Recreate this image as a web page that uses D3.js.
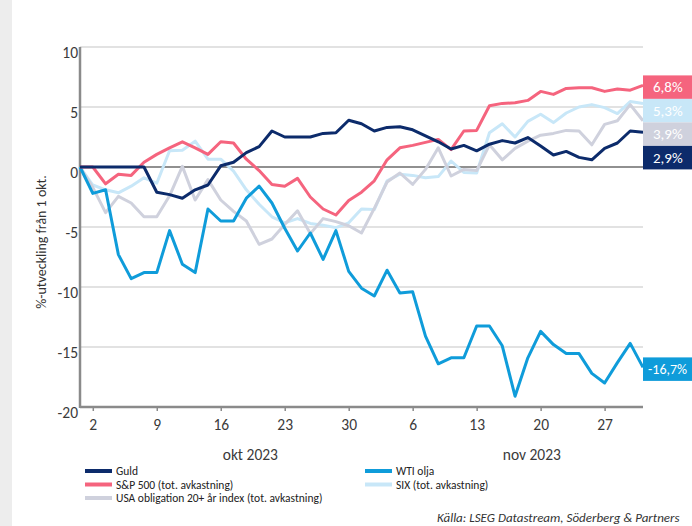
<!DOCTYPE html>
<html>
<head>
<meta charset="utf-8">
<script src="https://cdn.jsdelivr.net/npm/d3@7"></script>
<style>
  body { margin: 0; background: #fff; }
  text { font-family: Carlito, Lato, "Open Sans", sans-serif; }
</style>
</head>
<body>
<svg id="chart"></svg>
<script>
// 交易日
const dates = [
  "2023-09-29",
  "2023-10-02", "2023-10-03", "2023-10-04", "2023-10-05", "2023-10-06",
  "2023-10-09", "2023-10-10", "2023-10-11", "2023-10-12", "2023-10-13",
  "2023-10-16", "2023-10-17", "2023-10-18", "2023-10-19", "2023-10-20",
  "2023-10-23", "2023-10-24", "2023-10-25", "2023-10-26", "2023-10-27",
  "2023-10-30", "2023-10-31", "2023-11-01", "2023-11-02", "2023-11-03",
  "2023-11-06", "2023-11-07", "2023-11-08", "2023-11-09", "2023-11-10",
  "2023-11-13", "2023-11-14", "2023-11-15", "2023-11-16", "2023-11-17",
  "2023-11-20", "2023-11-21", "2023-11-22", "2023-11-23", "2023-11-24",
  "2023-11-27", "2023-11-28", "2023-11-29", "2023-11-30"
];

// 数据
const guld = [0, 0, 0, 0, 0, 0, -2.1, -2.3, -2.6, -1.9, -1.5, 0.1, 0.4, 1.2, 1.7,
  3.0, 2.5, 2.5, 2.5, 2.8, 2.85, 3.9, 3.6, 3.0, 3.3, 3.35, 3.1, 2.6, 2.1, 1.5,
  1.8, 1.35, 1.9, 2.2, 2.0, 2.45, 1.75, 1.0, 1.3, 0.8, 0.6, 1.55, 2.0, 3.0, 2.9];
const sp500 = [0, 0, -1.4, -0.6, -0.7, 0.4, 1.05, 1.6, 2.1, 1.6, 1.05, 2.1, 2.0, 0.65, -0.3,
  -1.45, -1.6, -0.95, -2.5, -3.5, -4.0, -2.8, -2.1, -1.15, 0.6, 1.6, 1.8, 2.05, 2.3, 1.45,
  3.0, 3.05, 5.1, 5.3, 5.35, 5.55, 6.3, 6.05, 6.55, 6.6, 6.6, 6.3, 6.5, 6.4, 6.8];
const usaObl = [0, -1.7, -3.8, -2.45, -3.0, -4.15, -4.15, -2.4, 0.05, -2.75, -1.05, -2.75, -3.7, -4.5, -6.45,
  -6.0, -4.8, -3.65, -5.55, -4.3, -4.55, -4.9, -5.5, -3.45, -1.25, -0.5, -1.45, -0.2, 1.6, -0.75,
  -0.2, -0.3, 1.85, 0.6, 1.55, 2.15, 2.65, 2.8, 3.05, 3.0, 1.85, 3.55, 3.85, 5.2, 3.85];
const wti = [0, -2.2, -1.9, -7.3, -9.3, -8.8, -8.8, -5.3, -8.1, -8.8, -3.5, -4.5, -4.5, -2.6, -1.6,
  -3.0, -5.1, -7.0, -5.5, -7.7, -5.3, -8.7, -10.1, -10.75, -8.6, -10.5, -10.4, -14.1, -16.4, -15.9,
  -15.9, -13.25, -13.25, -14.9, -19.1, -15.9, -13.7, -14.8, -15.55, -15.55, -17.2, -18.0, -16.3, -14.7, -16.7];
const six = [0, -1.5, -1.9, -2.15, -1.6, -0.9, -1.35, 1.35, 1.4, 2.15, 0.65, 0.65, -0.35, -1.9, -3.1,
  -4.15, -4.65, -4.3, -4.7, -4.85, -5.05, -4.65, -3.5, -3.55, -1.15, -0.6, -0.7, -0.9, -0.8, 0.5,
  -0.45, -0.5, 2.85, 3.6, 2.5, 3.8, 4.4, 3.7, 4.5, 5.0, 5.2, 4.95, 4.45, 5.45, 5.3];

// 刻度
const yTicks = [10, 5, 0, -5, -10, -15, -20];
const xTickDates = ["2023-10-02", "2023-10-09", "2023-10-16", "2023-10-23", "2023-10-30",
  "2023-11-06", "2023-11-13", "2023-11-20", "2023-11-27"];
const monthLabels = ["okt 2023", "nov 2023"];
const monthAnchors = ["2023-10-18", "2023-11-17"];
const endLabels = ["6,8%", "5,3%", "3,9%", "2,9%", "-16,7%"];

// 系列 (绘制顺序)
const series = [
  { name: "SIX (tot. avkastning)", values: six, color: "#c8e7f8" },
  { name: "USA obligation 20+ år index (tot. avkastning)", values: usaObl, color: "#cfd1dd" },
  { name: "WTI olja", values: wti, color: "#0f9cda" },
  { name: "S&P 500 (tot. avkastning)", values: sp500, color: "#f5647e" },
  { name: "Guld", values: guld, color: "#0c2b6b" }
];

// 配置
const W = 692, H = 526;
const plot = { left: 80, right: 643, top: 47, bottom: 407 };

const svg = d3.select("#chart").attr("width", W).attr("height", H);

svg.append("rect").attr("width", W).attr("height", H).attr("fill", "#fff");
svg.append("rect").attr("x", 0).attr("y", 0).attr("width", 12).attr("height", H).attr("fill", "#ededed");

// 比例尺
const x = d3.scalePoint().domain(dates).range([plot.left, plot.right]);
const y = d3.scaleLinear().domain([-20, 10]).range([plot.bottom, plot.top]);

// 网格线
svg.append("g").selectAll("line")
  .data(yTicks.filter(function (d) { return d !== 0 && d !== -20; }))
  .enter().append("line")
  .attr("x1", plot.left).attr("x2", plot.right)
  .attr("y1", function (d) { return y(d); }).attr("y2", function (d) { return y(d); })
  .attr("stroke", "#c6c6c6").attr("stroke-width", 1.2);

// 零线
svg.append("line")
  .attr("x1", plot.left).attr("x2", plot.right)
  .attr("y1", y(0)).attr("y2", y(0))
  .attr("stroke", "#222").attr("stroke-width", 1.2);

// Y轴
svg.append("g").selectAll("text")
  .data(yTicks)
  .enter().append("text")
  .attr("x", 78)
  .attr("y", function (d) { return y(d) + 11; })
  .attr("text-anchor", "end")
  .attr("font-size", 15.5)
  .attr("fill", "#3a3a3a")
  .text(function (d) { return d; });

svg.append("line")
  .attr("x1", plot.left).attr("x2", plot.left)
  .attr("y1", plot.top).attr("y2", plot.bottom + 1)
  .attr("stroke", "#8a8a8a").attr("stroke-width", 2.5);

svg.append("text")
  .attr("transform", "translate(46,242) rotate(-90)")
  .attr("text-anchor", "middle")
  .attr("font-size", 14)
  .attr("fill", "#333")
  .text("%-utveckling från 1 okt.");

// X轴
const xAxis = d3.axisBottom(x)
  .tickValues(xTickDates)
  .tickSize(4)
  .tickPadding(8)
  .tickFormat(function (d) { return String(+d.slice(8)); });

const gx = svg.append("g")
  .attr("transform", "translate(0," + plot.bottom + ")")
  .call(xAxis);
gx.select(".domain").attr("d", "M" + plot.left + ",0H" + plot.right)
  .attr("stroke", "#8a8a8a").attr("stroke-width", 2.5);
gx.selectAll(".tick line").attr("stroke", "#8a8a8a").attr("stroke-width", 1.5);
gx.selectAll(".tick text")
  .attr("font-size", 15.5)
  .attr("fill", "#3a3a3a")
  .attr("font-family", "Carlito, Lato, 'Open Sans', sans-serif");

svg.append("g").selectAll("text")
  .data(monthLabels)
  .enter().append("text")
  .attr("x", function (d, i) { return x(monthAnchors[i]) + 4; })
  .attr("y", 460)
  .attr("text-anchor", "middle")
  .attr("font-size", 15.5)
  .attr("fill", "#3a3a3a")
  .text(function (d) { return d; });

// 折线
const line = d3.line()
  .x(function (d, i) { return x(dates[i]); })
  .y(function (d) { return y(d); });

svg.append("g").selectAll("path")
  .data(series)
  .enter().append("path")
  .attr("d", function (d) { return line(d.values); })
  .attr("fill", "none")
  .attr("stroke", function (d) { return d.color; })
  .attr("stroke-width", 3)
  .attr("stroke-linejoin", "round");

// 末端标签
const labelOrder = [
  { s: series[3], text: endLabels[0], size: 15, dx: 10 },
  { s: series[0], text: endLabels[1], size: 15, dx: 10 },
  { s: series[1], text: endLabels[2], size: 15, dx: 10 },
  { s: series[4], text: endLabels[3], size: 15, dx: 10 },
  { s: series[2], text: endLabels[4], size: 14, dx: 5 }
];
let prevBottom = -Infinity;
labelOrder.forEach(function (d) {
  const v = d.s.values[d.s.values.length - 1];
  const top = Math.max(y(v) - 10, prevBottom);
  prevBottom = top + 23.5;
  svg.append("rect")
    .attr("x", plot.right).attr("y", top)
    .attr("width", W - plot.right).attr("height", 23.5)
    .attr("fill", d.s.color);
  svg.append("text")
    .attr("x", plot.right + d.dx).attr("y", top + 17)
    .attr("font-size", d.size)
    .attr("fill", "#fff")
    .text(d.text);
});

// 图例
const legendItems = [
  { s: series[4], col: 0, row: 0 },
  { s: series[3], col: 0, row: 1 },
  { s: series[1], col: 0, row: 2 },
  { s: series[2], col: 1, row: 0 },
  { s: series[0], col: 1, row: 1 }
];
const legend = svg.append("g").selectAll("g")
  .data(legendItems)
  .enter().append("g")
  .attr("transform", function (d) {
    return "translate(" + (d.col === 0 ? 85 : 365) + "," + (471 + d.row * 13.5) + ")";
  });
legend.append("line")
  .attr("x1", 0).attr("x2", 27)
  .attr("stroke", function (d) { return d.s.color; })
  .attr("stroke-width", 4);
legend.append("text")
  .attr("x", 31).attr("y", 4)
  .attr("font-size", 11.5)
  .attr("fill", "#222")
  .text(function (d) { return d.s.name; });

// 来源
svg.append("text")
  .attr("x", 437).attr("y", 522)
  .attr("font-size", 13)
  .attr("font-style", "italic")
  .attr("fill", "#333")
  .text("Källa: LSEG Datastream, Söderberg & Partners");
</script>
</body>
</html>
